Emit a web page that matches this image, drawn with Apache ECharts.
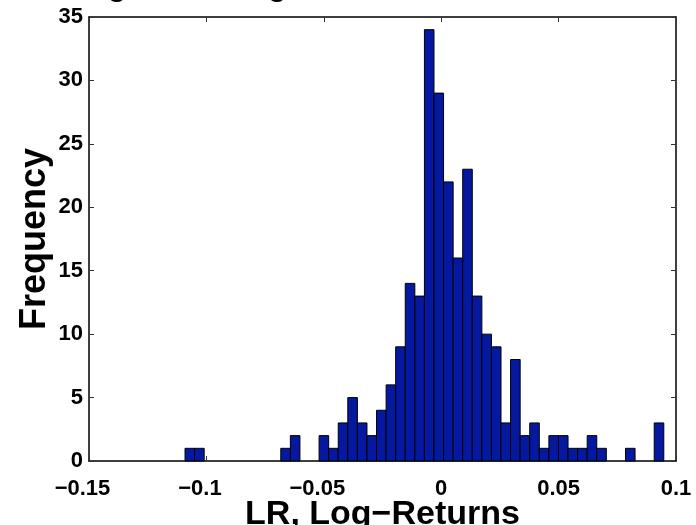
<!DOCTYPE html>
<html>
<head>
<meta charset="utf-8">
<script src="https://cdn.jsdelivr.net/npm/echarts@6/dist/echarts.min.js"></script>
<style>
html,body{margin:0;padding:0;background:#fff;}
#chart{width:696px;height:525px;}
</style>
</head>
<body>
<div id="chart"></div>
<script>
// Histogram data (50 bins)
const binStart = -0.1091;
const binWidth = 0.004078;
const counts = [1,1,0,0,0,0,0,0,0,0,
                1,2,0,0,2,1,3,5,3,2,
                4,6,9,14,13,34,29,22,16,23,
                13,10,9,3,8,2,3,1,2,2,
                1,1,2,1,0,0,1,0,0,3];
const xTicks = [-0.15,-0.1,-0.05,0,0.05,0.1];
const xTickLabels = ['\u22120.15','\u22120.1','\u22120.05','0','0.05','0.1'];
const yTicks = [0,5,10,15,20,25,30,35];
const yTickLabels = ['0','5','10','15','20','25','30','35'];
const titleText = 'Histogram of Log\u2212Returns';
const xName = 'LR, Log\u2212Returns';
const yName = 'Frequency';

const bins = counts.map((c,i)=>[binStart+i*binWidth, binStart+(i+1)*binWidth, c]).filter(d=>d[2]>0);

const FONT = '"Liberation Sans", Arial, sans-serif';
const chart = echarts.init(document.getElementById('chart'), null, {renderer:'canvas'});

function xFmt(v){
  const i = xTicks.findIndex(t=>Math.abs(t-v)<1e-9);
  if (i<0) return '';
  const s = xTickLabels[i];
  return s.charAt(0)==='\u2212' ? '{neg|'+s+'}' : s;
}
function yFmt(v){
  const i = yTicks.findIndex(t=>Math.abs(t-v)<1e-9);
  return i>=0 ? yTickLabels[i] : '';
}
const lineStyle = {color:'#000', width:1.5};
const tickStyle = {show:true, inside:true, length:5, lineStyle:{color:'#333', width:1}};
const labelFont = {fontFamily:FONT, fontWeight:'bold', fontSize:22, color:'#000'};

chart.setOption({
  animation:false,
  backgroundColor:'#fff',
  graphic:[{
    type:'text', left:30, top:-29, silent:true,
    style:{text:titleText, font:'bold 31px "Liberation Sans", Arial, sans-serif', fill:'#000'}
  }],
  grid:{left:89, right:20, top:17, bottom:64, containLabel:false, outerBoundsMode:'none'},
  xAxis:[{
    type:'value', min:-0.15, max:0.1, interval:0.05, position:'bottom',
    name:xName, nameLocation:'middle', nameGap:37, nameMoveOverlap:false,
    nameTextStyle:{fontFamily:FONT, fontWeight:'bold', fontSize:34, color:'#000'},
    axisLine:{show:true, onZero:false, lineStyle:lineStyle},
    axisTick:tickStyle,
    splitLine:{show:false},
    axisLabel:Object.assign({formatter:xFmt, margin:17,
      rich:{neg:Object.assign({padding:[0,13,0,0]}, labelFont)}}, labelFont)
  },{
    type:'value', min:-0.15, max:0.1, interval:0.05, position:'top',
    axisLine:{show:true, onZero:false, lineStyle:lineStyle},
    axisTick:tickStyle, axisLabel:{show:false}, splitLine:{show:false}
  }],
  yAxis:[{
    type:'value', min:0, max:35, interval:5, position:'left',
    name:yName, nameLocation:'middle', nameGap:36, nameRotate:90, nameMoveOverlap:false,
    nameTextStyle:{fontFamily:FONT, fontWeight:'bold', fontSize:36, color:'#000'},
    axisLine:{show:true, onZero:false, lineStyle:lineStyle},
    axisTick:tickStyle,
    splitLine:{show:false},
    axisLabel:Object.assign({formatter:yFmt, margin:6}, labelFont)
  },{
    type:'value', min:0, max:35, interval:5, position:'right',
    axisLine:{show:true, onZero:false, lineStyle:lineStyle},
    axisTick:tickStyle, axisLabel:{show:false}, splitLine:{show:false}
  }],
  series:[{
    type:'custom',
    xAxisIndex:0, yAxisIndex:0,
    data:bins,
    renderItem:function(params, api){
      const p0 = api.coord([api.value(0), api.value(2)]);
      const p1 = api.coord([api.value(1), 0]);
      return {
        type:'rect',
        shape:{x:p0[0], y:p0[1], width:p1[0]-p0[0], height:p1[1]-p0[1]},
        style:{fill:'#0519a0', stroke:'#000', lineWidth:1}
      };
    }
  }]
});
</script>
</body>
</html>
